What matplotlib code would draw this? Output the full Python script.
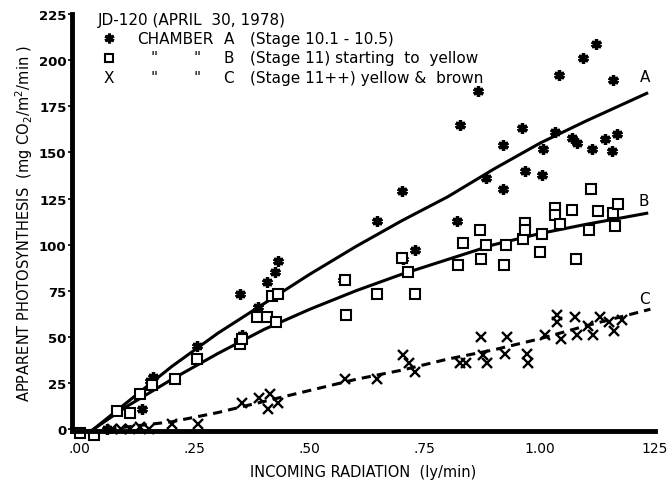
import numpy as np
import matplotlib
matplotlib.use("Agg")
import matplotlib.pyplot as plt

# Chamber A (stars)
a_x = [0.00, 0.03, 0.06, 0.135, 0.152, 0.16, 0.254, 0.348, 0.352, 0.387, 0.407, 0.42,
       0.424, 0.43, 0.572, 0.645, 0.70, 0.703, 0.728, 0.82, 0.826, 0.865, 0.883,
       0.92, 0.92, 0.961, 0.967, 1.004, 1.007, 1.033, 1.041, 1.07, 1.08, 1.094,
       1.113, 1.122, 1.141, 1.157, 1.159, 1.167]
a_y = [-2, -3, 0, 11, 26, 28, 45, 73, 51, 66, 80, 72,
       85, 91, 81, 113, 129, 92, 97, 113, 165, 183, 136,
       154, 130, 163, 140, 138, 152, 161, 192, 158, 155, 201,
       152, 209, 157, 151, 189, 160]

# Chamber B (squares)
b_x = [0.00, 0.03, 0.08, 0.109, 0.13, 0.157, 0.207, 0.254, 0.348, 0.352, 0.385, 0.407,
       0.426, 0.417, 0.43, 0.576, 0.578, 0.646, 0.70, 0.713, 0.728, 0.822, 0.832,
       0.87, 0.872, 0.883, 0.922, 0.926, 0.963, 0.967, 0.968, 1.0, 1.004, 1.033,
       1.033, 1.043, 1.07, 1.078, 1.107, 1.11, 1.126, 1.159, 1.163, 1.17]
b_y = [-2, -3, 10, 9, 19, 24, 27, 38, 46, 49, 61, 61,
       58, 72, 73, 81, 62, 73, 93, 85, 73, 89, 101,
       108, 92, 100, 89, 100, 103, 112, 108, 96, 106, 120,
       116, 111, 119, 92, 108, 130, 118, 117, 110, 122]

# Chamber C (crosses)
c_x = [0.07, 0.09, 0.11, 0.13, 0.15, 0.20, 0.257, 0.352, 0.39, 0.413, 0.41, 0.43,
       0.576, 0.646, 0.703, 0.716, 0.728, 0.826, 0.839, 0.872, 0.877, 0.884,
       0.928, 0.924, 0.971, 0.974, 1.011, 1.037, 1.037, 1.045, 1.076, 1.081,
       1.105, 1.115, 1.13, 1.15, 1.16, 1.178]
c_y = [0, 0, 0, 1, 0, 3, 3, 14, 17, 19, 11, 14,
       27, 27, 40, 36, 31, 36, 36, 50, 40, 36,
       50, 41, 41, 36, 51, 62, 58, 49, 61, 51,
       56, 51, 61, 58, 53, 59]

# fitted curves
curve_a_x = [0.03, 0.1, 0.2, 0.3, 0.4, 0.5, 0.6, 0.7, 0.8, 0.9, 1.0, 1.1, 1.232]
curve_a_y = [0, 14, 34, 52, 68, 84, 99, 113, 126, 141, 155, 167, 182]
curve_b_x = [0.03, 0.1, 0.2, 0.3, 0.4, 0.5, 0.6, 0.7, 0.8, 0.9, 1.0, 1.1, 1.232]
curve_b_y = [0, 12, 27, 41, 54, 65, 75, 84, 92, 100, 106, 111, 117]
curve_c_x = [0.06, 0.2, 0.3, 0.4, 0.5, 0.6, 0.7, 0.8, 0.9, 1.0, 1.1, 1.24]
curve_c_y = [0, 4, 9, 15, 21, 27, 32, 38, 43, 49, 56, 65]

y_ticks = [0, 25, 50, 75, 100, 125, 150, 175, 200, 225]
x_ticks = [0.0, 0.25, 0.5, 0.75, 1.0, 1.25]
x_tick_labels = [".00", ".25", ".50", ".75", "1.00", "125"]

fig = plt.figure(figsize=(6.7, 4.89), dpi=100)
ax = fig.add_axes([72 / 670, 57 / 489, 583 / 670, 417 / 489])

star = (6, 2, 0)
ax.plot(curve_a_x, curve_a_y, color="black", lw=2.2)
ax.plot(curve_b_x, curve_b_y, color="black", lw=2.2)
ax.plot(curve_c_x, curve_c_y, color="black", lw=2.2, ls=(0, (3, 2)))

ax.plot(a_x, a_y, ls="none", marker=star, ms=7.5, mew=2.4, color="black", clip_on=False)
ax.plot(b_x, b_y, ls="none", marker="s", ms=7, mew=1.5, mfc="white", mec="black", clip_on=False)
ax.plot(c_x, c_y, ls="none", marker="x", ms=7, mew=1.7, color="black", clip_on=False)

ax.text(1.228, 187, "A", fontsize=11, ha="center", va="bottom")
ax.text(1.226, 120, "B", fontsize=11, ha="center", va="bottom")
ax.text(1.228, 67, "C", fontsize=11, ha="center", va="bottom")

ax.set_xlim(-0.017, 1.25)
ax.set_ylim(-1, 225)
ax.set_yticks(y_ticks)
ax.set_yticklabels([str(v) for v in y_ticks], fontsize=9.5, fontweight="bold")
ax.set_xticks(x_ticks)
ax.set_xticklabels(x_tick_labels, fontsize=10)
ax.tick_params(axis="y", length=3, width=1.2, pad=1)
ax.tick_params(axis="x", length=0, pad=7)
for s in ["top", "right"]:
    ax.spines[s].set_visible(False)
ax.spines["left"].set_linewidth(3.5)
ax.spines["bottom"].set_linewidth(3.5)

ax.set_xlabel("INCOMING RADIATION  (ly/min)", fontsize=10.5, labelpad=7)
ax.set_ylabel("APPARENT PHOTOSYNTHESIS  (mg CO$_2$/m$^2$/min )", fontsize=10.5, labelpad=3)

# key in the upper left
tr = ax.transAxes
fs = 11
ax.text(0.045, 0.988, "JD-120 (APRIL  30, 1978)", transform=tr, fontsize=fs, va="center")
rows_y = [0.942, 0.895, 0.847]
ax.plot([0.0635], [rows_y[0]], transform=tr, marker=star, ms=7, mew=2.2, color="black", clip_on=False)
ax.plot([0.0635], [rows_y[1]], transform=tr, marker="s", ms=6, mew=1.5, mfc="white", mec="black", clip_on=False)
ax.text(0.0635, rows_y[2], "X", transform=tr, fontsize=fs, ha="center", va="center")
ax.text(0.111, rows_y[0], "CHAMBER", transform=tr, fontsize=fs, va="center")
ax.text(0.26, rows_y[0], "A", transform=tr, fontsize=fs, va="center")
ax.text(0.305, rows_y[0], "(Stage 10.1 - 10.5)", transform=tr, fontsize=fs, va="center")
for ry, letter, desc in [(rows_y[1], "B", "(Stage 11) starting  to  yellow"),
                         (rows_y[2], "C", "(Stage 11++) yellow &  brown")]:
    ax.text(0.134, ry, "\"", transform=tr, fontsize=fs, va="center")
    ax.text(0.209, ry, "\"", transform=tr, fontsize=fs, va="center")
    ax.text(0.26, ry, letter, transform=tr, fontsize=fs, va="center")
    ax.text(0.305, ry, desc, transform=tr, fontsize=fs, va="center")

fig.savefig("out.png", dpi=100, facecolor="white")
